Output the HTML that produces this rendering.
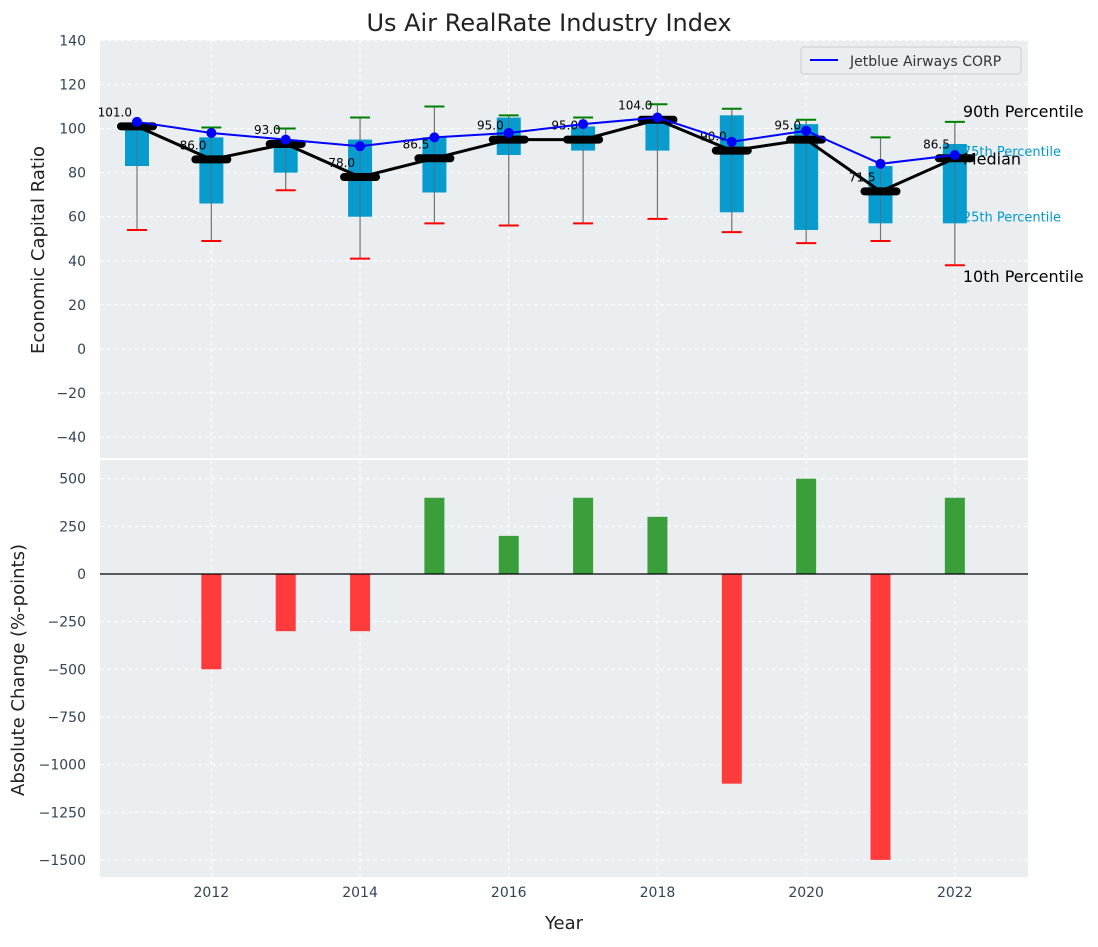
<!DOCTYPE html>
<html><head><meta charset="utf-8"><style>
body{margin:0;background:#fff;font-family:"Liberation Sans","DejaVu Sans",sans-serif}
svg text{font-family:"DejaVu Sans","Liberation Sans",sans-serif}
</style></head><body>
<svg id="c" width="1098" height="942" xmlns="http://www.w3.org/2000/svg"></svg>
<script>
const years=[2011,2012,2013,2014,2015,2016,2017,2018,2019,2020,2021,2022];
const p10=[54,49,72,41,57,56,57,59,53,48,49,38];
const p25=[83,66,80,60,71,88,90,90,62,54,57,57];
const medianVals=[101,86,93,78,86.5,95,95,104,90,95,71.5,86.5];
const p75=[101,96,95,95,96,105,101,105,106,102,83,93];
const p90=[102,100.5,100,105,110,106,105,111,109,104,96,103];
const jetblue=[103,98,95,92,96,98,102,105,94,99,84,88];
const changes=[0,-500,-300,-300,400,200,400,300,-1100,500,-1500,400];
const topTicks=[140,120,100,80,60,40,20,0,-20,-40];
const botTicks=[500,250,0,-250,-500,-750,-1000,-1250,-1500];
const xTicks=[2012,2014,2016,2018,2020,2022];

const NS="http://www.w3.org/2000/svg";
const svg=document.getElementById('c');
function mk(t,a,p){const e=document.createElementNS(NS,t);for(const k in a)e.setAttribute(k,a[k]);(p||svg).appendChild(e);return e;}
const X=v=>137+(v-2011)*74.35;
const Y1=v=>349-v*2.2045;
const Y2=v=>574-v*0.1906;
const L=100,R=1028;

// panels
let p=mk('rect',{x:L,y:40,width:R-L,height:418,fill:'#eaeef0'});


p=mk('rect',{x:L,y:460,width:R-L,height:417,fill:'#eaeef0'});



// grids
topTicks.forEach(t=>{
  mk('line',{x1:L,x2:R,y1:Y1(t),y2:Y1(t),stroke:'#fff','stroke-dasharray':'4,3','stroke-width':1});
  const tx=mk('text',{x:86,y:Y1(t)+5,'text-anchor':'end','font-size':14,fill:'#334455'});
  tx.textContent=t<0?'\u2212'+(-t):t;
  
  
});
botTicks.forEach(t=>{
  mk('line',{x1:L,x2:R,y1:Y2(t),y2:Y2(t),stroke:'#fff','stroke-dasharray':'4,3','stroke-width':1});
  const tx=mk('text',{x:86,y:Y2(t)+5,'text-anchor':'end','font-size':14,fill:'#334455'});
  tx.textContent=t<0?'\u2212'+(-t):t;
  
  
});
xTicks.forEach(t=>{
  mk('line',{x1:X(t),x2:X(t),y1:40,y2:458,stroke:'#fff','stroke-dasharray':'4,3'});
  mk('line',{x1:X(t),x2:X(t),y1:460,y2:877,stroke:'#fff','stroke-dasharray':'4,3'});
  const tx=mk('text',{x:X(t),y:897,'text-anchor':'middle','font-size':14,fill:'#334455'});
  tx.textContent=t;
  
  
});

// boxes
years.forEach((yr,i)=>{
  const x=X(yr);
  let w=mk('line',{x1:x,x2:x,y1:Y1(p10[i]),y2:Y1(p90[i]),stroke:'#888','stroke-width':1.2});
  
  
  let b=mk('rect',{x:x-12,y:Y1(p75[i]),width:24,height:Y1(p25[i])-Y1(p75[i]),fill:'#0099cc',opacity:0.97});
  
  
  mk('line',{x1:x,x2:x,y1:Y1(p10[i]),y2:Y1(p90[i]),stroke:'#666','stroke-width':1,opacity:0.6});
  let lo=mk('line',{x1:x-10,x2:x+10,y1:Y1(p10[i]),y2:Y1(p10[i]),stroke:'red','stroke-width':2});
  
  
  let hi=mk('line',{x1:x-10,x2:x+10,y1:Y1(p90[i]),y2:Y1(p90[i]),stroke:'green','stroke-width':2});
  
  
});
// median line
let mp=mk('polyline',{points:years.map((y,i)=>X(y)+','+Y1(medianVals[i])).join(' '),fill:'none',stroke:'#000','stroke-width':3});


years.forEach((yr,i)=>{
  const m=mk('line',{x1:X(yr)-16,x2:X(yr)+16,y1:Y1(medianVals[i]),y2:Y1(medianVals[i]),stroke:'#000','stroke-width':8,'stroke-linecap':'round'});
  
  
  const t=mk('text',{x:X(yr)-5,y:Y1(medianVals[i])-10,'text-anchor':'end','font-size':12,fill:'#000'});
  t.textContent=medianVals[i].toFixed(1);
  
  
});
// jetblue
let jl=mk('polyline',{points:years.map((y,i)=>X(y)+','+Y1(jetblue[i])).join(' '),fill:'none',stroke:'#0000ff','stroke-width':2});


years.forEach((yr,i)=>{
  const c=mk('circle',{cx:X(yr),cy:Y1(jetblue[i]),r:5,fill:'#0000ff'});
  
  
});
// percentile labels
const lx=X(2022)+8, li=years.length-1;
[['90th Percentile',Y1(p90[li])-5,16,'#000'],['75th Percentile',Y1(p75[li])+12,13,'#0099cc'],['Median',Y1(medianVals[li])+6,16,'#000'],['25th Percentile',Y1(p25[li])-2,13,'#0099cc'],['10th Percentile',Y1(p10[li])+17,16,'#000']].forEach(a=>{
  const t=mk('text',{x:lx,y:a[1],'font-size':a[2],fill:a[3]});
  t.textContent=a[0];
  
  
});
// bars
years.forEach((yr,i)=>{
  const v=changes[i];
  const r=mk('rect',{x:X(yr)-10,y:Math.min(Y2(v),Y2(0)),width:20,height:Math.abs(Y2(v)-Y2(0)),fill:v>=0?'#3a9e3a':'#ff3b3b'});
  
  
});
mk('line',{x1:L,x2:R,y1:Y2(0),y2:Y2(0),stroke:'#000','stroke-width':1.2});

// legend
const lg=mk('g',{});


mk('rect',{x:801,y:47,width:220,height:27,rx:3,fill:'#eaeef0',stroke:'#ccc'},lg);
mk('line',{x1:810,x2:838,y1:60,y2:60,stroke:'#0000ff','stroke-width':2},lg);
let lt=mk('text',{x:850,y:66,'font-size':14,fill:'#333'},lg);lt.textContent='Jetblue Airways CORP';

// titles
let t=mk('text',{x:549,y:31,'text-anchor':'middle','font-size':24,fill:'#222'});t.textContent='Us Air RealRate Industry Index';

t=mk('text',{x:44,y:250,'text-anchor':'middle','font-size':18,fill:'#222',transform:'rotate(-90 44 250)'});t.textContent='Economic Capital Ratio';

t=mk('text',{x:24,y:670,'text-anchor':'middle','font-size':18,fill:'#222',transform:'rotate(-90 24 670)'});t.textContent='Absolute Change (%-points)';

t=mk('text',{x:564,y:929,'text-anchor':'middle','font-size':18,fill:'#222'});t.textContent='Year';

</script>
</body></html>
